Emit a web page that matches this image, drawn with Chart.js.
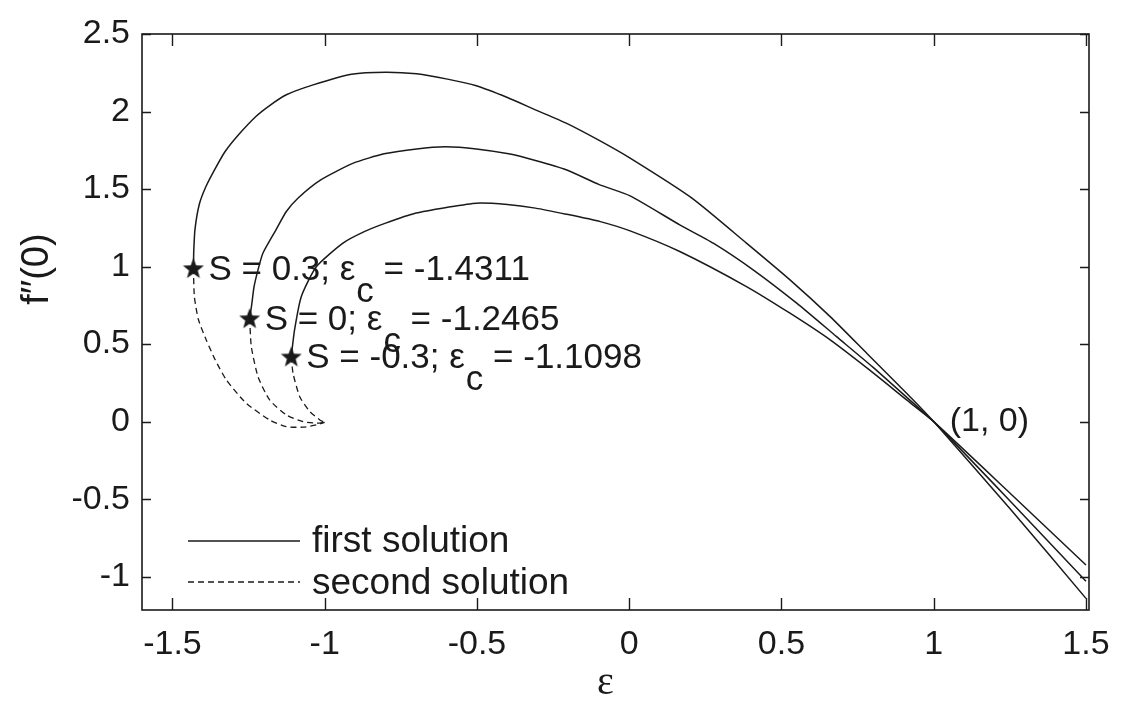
<!DOCTYPE html>
<html>
<head>
<meta charset="utf-8">
<script src="https://cdn.jsdelivr.net/npm/chart.js@4.4.0/dist/chart.umd.min.js"></script>
<style>
  html, body { margin: 0; padding: 0; background: #fff; }
  #wrap { width: 1142px; height: 721px; }
</style>
</head>
<body>
<div id="wrap"><canvas id="c" width="1142" height="721"></canvas></div>
<script>
// values
const xTicks = [-1.5, -1, -0.5, 0, 0.5, 1, 1.5];
const yTicks = [-1, -0.5, 0, 0.5, 1, 1.5, 2, 2.5];

const sValues = ['0.3', '0', '-0.3'];
const epsCrit = ['-1.4311', '-1.2465', '-1.1098'];
const critX = [-1.4311, -1.2465, -1.1098];
const critY = [0.99, 0.667, 0.42];

const legendLabels = ['first solution', 'second solution'];
const pointLabel = '(1, 0)';
const pointX = 1;
const pointY = 0;

// first solution (solid), starting at the critical point
const firstX_S03 = [-1.4311, -1.430, -1.426, -1.412, -1.390, -1.360, -1.327, -1.283, -1.226, -1.182, -1.126, -1.038, -0.912, -0.799, -0.698, -0.597, -0.502, -0.400, -0.308, -0.207, -0.100, 0.003, 0.206, 0.385, 0.528, 0.660, 0.780, 0.911, 1.0, 1.25, 1.5];
const firstY_S03 = [0.99, 1.10, 1.24, 1.40, 1.516, 1.63, 1.742, 1.850, 1.968, 2.037, 2.108, 2.172, 2.241, 2.254, 2.243, 2.209, 2.166, 2.09, 2.011, 1.925, 1.815, 1.699, 1.441, 1.151, 0.914, 0.677, 0.441, 0.183, 0, -0.56, -1.14];

const firstX_S0 = [-1.2465, -1.240, -1.232, -1.219, -1.203, -1.160, -1.126, -1.088, -1.013, -0.906, -0.805, -0.698, -0.604, -0.502, -0.396, -0.308, -0.207, -0.100, 0.003, 0.166, 0.276, 0.407, 0.550, 0.681, 0.801, 0.933, 1.0, 1.25, 1.5];
const firstY_S0 = [0.667, 0.75, 0.87, 0.979, 1.086, 1.237, 1.355, 1.441, 1.559, 1.667, 1.727, 1.759, 1.772, 1.759, 1.727, 1.684, 1.624, 1.53, 1.456, 1.269, 1.151, 0.979, 0.764, 0.548, 0.35, 0.119, 0, -0.51, -1.03];

const firstX_Sm03 = [-1.1098, -1.099, -1.077, -1.027, -0.940, -0.870, -0.800, -0.700, -0.600, -0.502, -0.400, -0.308, -0.207, -0.095, 0.003, 0.166, 0.385, 0.528, 0.660, 0.791, 0.911, 1.0, 1.25, 1.5];
const firstY_Sm03 = [0.42, 0.592, 0.806, 1.0, 1.151, 1.225, 1.28, 1.345, 1.381, 1.409, 1.40, 1.377, 1.338, 1.29, 1.230, 1.097, 0.871, 0.699, 0.527, 0.33, 0.14, 0, -0.46, -0.925];

// second solution (dashed), from the critical point down to about (-1, 0)
const secondX_S03 = [-1.4311, -1.428, -1.415, -1.389, -1.360, -1.323, -1.258, -1.181, -1.126, -1.071, -1.027, -1.0];
const secondY_S03 = [0.99, 0.806, 0.66, 0.527, 0.40, 0.269, 0.119, 0.011, -0.032, -0.036, -0.021, -0.005];

const secondX_S0 = [-1.2465, -1.241, -1.219, -1.181, -1.126, -1.071, -1.027, -1.0];
const secondY_S0 = [0.667, 0.484, 0.290, 0.14, 0.043, 0.0, -0.01, -0.005];

const secondX_Sm03 = [-1.1098, -1.104, -1.082, -1.049, -1.016, -1.0];
const secondY_Sm03 = [0.42, 0.312, 0.161, 0.065, 0.011, -0.005];

const INK = '#1a1a1a';
const SANS = '"Liberation Sans", Arial, Helvetica, sans-serif';

function toPoints(xs, ys) {
  return xs.map((x, i) => ({ x: x, y: ys[i] }));
}

// filled five pointed star used as the marker
function makeStar(size) {
  const cv = document.createElement('canvas');
  cv.width = size; cv.height = size;
  const g = cv.getContext('2d');
  const cx = size / 2, cy = size / 2 + 1, R = size / 2, r = R * 0.42;
  g.beginPath();
  for (let i = 0; i < 10; i++) {
    const rad = i % 2 === 0 ? R : r;
    const a = -Math.PI / 2 + i * Math.PI / 5;
    const px = cx + rad * Math.cos(a), py = cy + rad * Math.sin(a);
    if (i === 0) g.moveTo(px, py); else g.lineTo(px, py);
  }
  g.closePath();
  g.fillStyle = INK;
  g.fill();
  return cv;
}
const starImg = makeStar(22);

function solid(xs, ys) {
  return { data: toPoints(xs, ys), showLine: true, borderColor: INK, borderWidth: 1.5, pointRadius: 0, tension: 0.2 };
}
function dashed(xs, ys) {
  return { data: toPoints(xs, ys), showLine: true, borderColor: INK, borderWidth: 1.3, borderDash: [6, 4], pointRadius: 0, tension: 0.2 };
}

const datasets = [
  solid(firstX_S03, firstY_S03),
  solid(firstX_S0, firstY_S0),
  solid(firstX_Sm03, firstY_Sm03),
  dashed(secondX_S03, secondY_S03),
  dashed(secondX_S0, secondY_S0),
  dashed(secondX_Sm03, secondY_Sm03),
  { data: toPoints(critX, critY), showLine: false, pointStyle: starImg, pointRadius: 11 }
];

// frame, inward ticks, annotations, legend and axis titles
const decorations = {
  id: 'decorations',
  afterDraw(chart) {
    const ctx = chart.ctx;
    const a = chart.chartArea;
    const xs = chart.scales.x, ys = chart.scales.y;
    ctx.save();
    ctx.strokeStyle = INK;
    ctx.lineWidth = 1.6;
    ctx.strokeRect(a.left, a.top, a.right - a.left, a.bottom - a.top);

    ctx.lineWidth = 1.4;
    ctx.beginPath();
    xTicks.forEach(v => {
      const px = Math.round(xs.getPixelForValue(v)) + 0.5;
      ctx.moveTo(px, a.bottom); ctx.lineTo(px, a.bottom - 12);
      ctx.moveTo(px, a.top); ctx.lineTo(px, a.top + 12);
    });
    yTicks.forEach(v => {
      const py = Math.round(ys.getPixelForValue(v)) + 0.5;
      ctx.moveTo(a.left, py); ctx.lineTo(a.left + 9, py);
      ctx.moveTo(a.right, py); ctx.lineTo(a.right - 9, py);
    });
    ctx.stroke();

    ctx.fillStyle = INK;
    ctx.textBaseline = 'alphabetic';
    ctx.textAlign = 'left';
    const labFont = '35px ' + SANS;
    critX.forEach((cx, i) => {
      let px = xs.getPixelForValue(cx) + 15;
      const base = ys.getPixelForValue(critY[i]) + 12;
      ctx.font = labFont;
      const head = 'S = ' + sValues[i] + '; \u03b5';
      ctx.fillText(head, px, base);
      px += ctx.measureText(head).width + 1;
      ctx.fillText('c', px, base + 22);
      px += ctx.measureText('c').width;
      ctx.fillText(' = ' + epsCrit[i], px, base);
    });

    ctx.font = '34px ' + SANS;
    ctx.fillText(pointLabel, xs.getPixelForValue(pointX) + 16, ys.getPixelForValue(pointY) + 9);

    // legend
    const lx0 = a.left + 46, lx1 = a.left + 158;
    const ly1 = a.bottom - 69, ly2 = a.bottom - 28;
    ctx.lineWidth = 1.3;
    ctx.beginPath();
    ctx.moveTo(lx0, ly1); ctx.lineTo(lx1, ly1);
    ctx.stroke();
    ctx.setLineDash([6, 4]);
    ctx.beginPath();
    ctx.moveTo(lx0, ly2); ctx.lineTo(lx1, ly2);
    ctx.stroke();
    ctx.setLineDash([]);
    ctx.font = '37px ' + SANS;
    ctx.fillText(legendLabels[0], lx1 + 12, ly1 + 11);
    ctx.fillText(legendLabels[1], lx1 + 12, ly2 + 12);

    // axis titles
    ctx.textAlign = 'center';
    ctx.font = '40px "Liberation Serif", "Times New Roman", serif';
    ctx.fillText('\u03b5', (a.left + a.right) / 2 - 10, a.bottom + 84);
    ctx.save();
    ctx.translate(a.left - 94, (a.top + a.bottom) / 2 - 53);
    ctx.rotate(-Math.PI / 2);
    ctx.font = '38px ' + SANS;
    ctx.fillText('f\u2032\u2032(0)', 0, 0);
    ctx.restore();
    ctx.restore();
  }
};

new Chart(document.getElementById('c'), {
  type: 'scatter',
  data: { datasets: datasets },
  options: {
    responsive: false,
    animation: false,
    devicePixelRatio: 1,
    layout: { padding: { left: 0, right: 53, top: 34, bottom: 0 } },
    plugins: { legend: { display: false }, tooltip: { enabled: false } },
    scales: {
      x: {
        type: 'linear',
        min: -1.6,
        max: 1.51,
        afterBuildTicks: s => { s.ticks = xTicks.map(v => ({ value: v })); },
        afterFit: s => { s.height = 111; },
        grid: { display: false, drawTicks: false },
        border: { display: false },
        ticks: { color: INK, font: { family: SANS, size: 34 }, padding: 14, callback: v => String(v) }
      },
      y: {
        type: 'linear',
        min: -1.215,
        max: 2.5,
        afterBuildTicks: s => { s.ticks = yTicks.map(v => ({ value: v })); },
        afterFit: s => { s.width = 142; },
        grid: { display: false, drawTicks: false },
        border: { display: false },
        ticks: { color: INK, font: { family: SANS, size: 34 }, padding: 12, callback: v => String(v) }
      }
    }
  },
  plugins: [decorations]
});
</script>
</body>
</html>
